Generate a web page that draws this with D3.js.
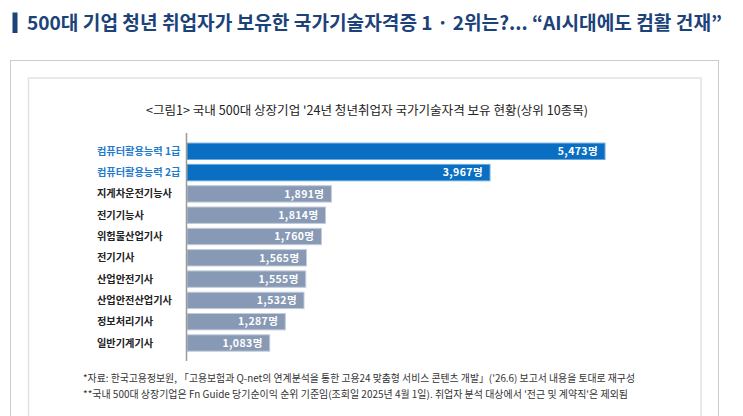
<!DOCTYPE html>
<html>
<head>
<meta charset="utf-8">
<script src="https://cdn.jsdelivr.net/npm/d3@7"></script>
<style>
  html, body { margin: 0; padding: 0; background: #fff; }
  svg { display: block; font-family: "Noto Sans CJK KR", "Noto Sans", sans-serif; }
</style>
</head>
<body>
<div id="chart"></div>
<script>
const categories = ['컴퓨터활용능력 1급', '컴퓨터활용능력 2급', '지게차운전기능사', '전기기능사', '위험물산업기사',
    '전기기사', '산업안전기사', '산업안전산업기사', '정보처리기사', '일반기계기사'];
const values = [5473, 3967, 1891, 1814, 1760, 1565, 1555, 1532, 1287, 1083];
const highlighted = [true, true, false, false, false, false, false, false, false, false];

const headline = '500대 기업 청년 취업자가 보유한 국가기술자격증 1 · 2위는?...  “AI시대에도 컴활 건재”';
const chartTitle = '<그림1> 국내 500대 상장기업 \'24년 청년취업자 국가기술자격 보유 현황(상위 10종목)';
const notes = [
    '*자료: 한국고용정보원, 「고용보험과 Q-net의 연계분석을 통한 고용24 맞춤형 서비스 콘텐츠 개발」(\'26.6) 보고서 내용을 토대로 재구성',
    '**국내 500대 상장기업은 Fn Guide 당기순이익 순위 기준임(조회일 2025년 4월 1일). 취업자 분석 대상에서 \'전근 및 계약직\'은 제외됨'
];

const width = 743, height = 416;
const svg = d3.select('#chart').append('svg')
    .attr('width', width)
    .attr('height', height);

// headline
svg.append('rect')
    .attr('x', 12.5).attr('y', 12.5).attr('width', 5).attr('height', 20.5)
    .attr('fill', '#1b4279');
svg.append('text')
    .attr('x', 27).attr('y', 30)
    .attr('textLength', 695).attr('lengthAdjust', 'spacingAndGlyphs')
    .attr('font-size', 19).attr('font-weight', 'bold')
    .attr('fill', '#1b4279')
    .text(headline);

// frames
svg.append('rect')
    .attr('x', 10.5).attr('y', 60.5).attr('width', 708).attr('height', 380)
    .attr('fill', 'none').attr('stroke', '#cccccc');
svg.append('rect')
    .attr('x', 28.5).attr('y', 78).attr('width', 672.5).attr('height', 360)
    .attr('fill', 'none').attr('stroke', '#e2e2e2').attr('stroke-width', 1.5);

// chart title
svg.append('text')
    .attr('x', 146).attr('y', 115)
    .attr('textLength', 442).attr('lengthAdjust', 'spacingAndGlyphs')
    .attr('font-size', 12.5).attr('fill', '#222')
    .text(chartTitle);

const x = d3.scaleLinear().domain([0, 5473]).range([187, 605]);
const y = d3.scaleBand().domain(categories).range([140.65, 353.65])
    .paddingInner(0.23).paddingOuter(0.115);

const data = categories.map((c, i) => ({ name: c, value: values[i], hi: highlighted[i] }));

svg.append('g').selectAll('rect')
    .data(data)
    .enter().append('rect')
    .attr('x', x(0))
    .attr('y', d => y(d.name))
    .attr('width', d => x(d.value) - x(0))
    .attr('height', y.bandwidth())
    .attr('fill', d => d.hi ? '#0a6fc2' : '#8799b4')
    .attr('stroke', d => d.hi ? '#6aa8dc' : '#c3ccda')
    .attr('stroke-width', 1);

// axis line
svg.append('line')
    .attr('x1', 186.5).attr('x2', 186.5).attr('y1', 133).attr('y2', 361)
    .attr('stroke', '#9a9a9a').attr('stroke-width', 1.5);

// category labels
svg.append('g').selectAll('text')
    .data(data)
    .enter().append('text')
    .attr('x', 97)
    .attr('y', d => y(d.name) + y.bandwidth() / 2)
    .attr('dy', '0.35em')
    .attr('font-size', 10.2).attr('font-weight', 'bold')
    .attr('fill', d => d.hi ? '#1f7bcc' : '#222')
    .text(d => d.name);

// value labels
const fmt = d3.format(',');
svg.append('g').selectAll('text')
    .data(data)
    .enter().append('text')
    .attr('x', d => x(d.value) - 7)
    .attr('y', d => y(d.name) + y.bandwidth() / 2)
    .attr('dy', '0.36em')
    .attr('text-anchor', 'end')
    .attr('font-size', 10.5).attr('font-weight', 'bold')
    .attr('letter-spacing', 0.4)
    .attr('fill', '#fff')
    .text(d => fmt(d.value) + '명');

// notes
svg.append('g').selectAll('text')
    .data(notes)
    .enter().append('text')
    .attr('x', 83)
    .attr('y', (d, i) => 382 + i * 16)
    .attr('textLength', (d, i) => i === 0 ? 552 : 545)
    .attr('lengthAdjust', 'spacingAndGlyphs')
    .attr('font-size', 10).attr('fill', '#333')
    .text(d => d);
</script>
</body>
</html>
